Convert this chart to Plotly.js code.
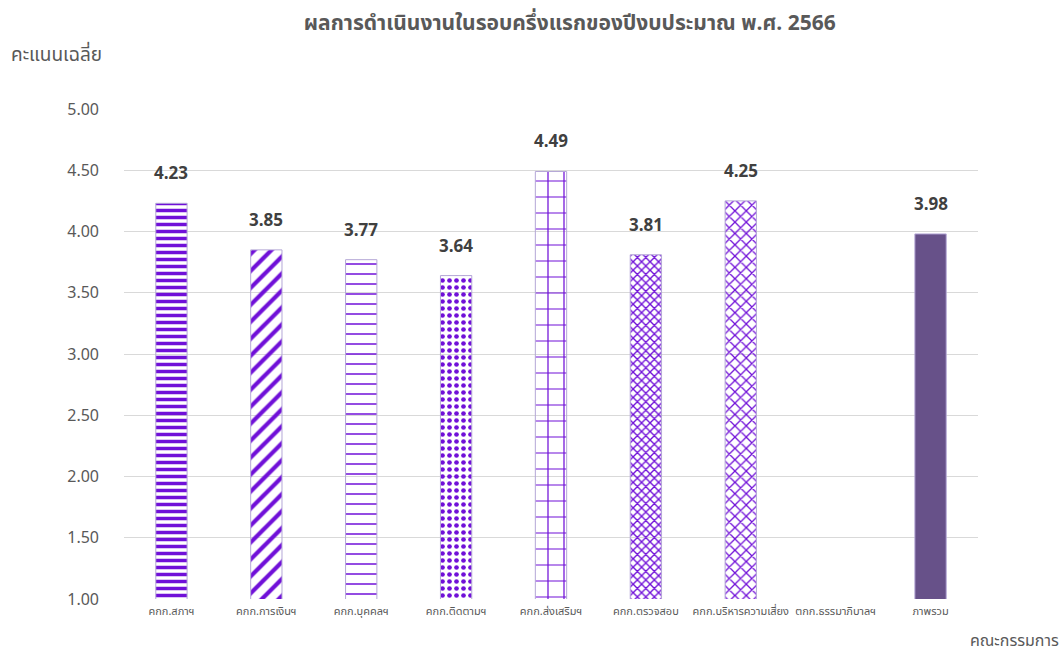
<!DOCTYPE html>
<html>
<head>
<meta charset="utf-8">
<script src="https://cdn.plot.ly/plotly-3.0.1.min.js"></script>
<style>html,body{margin:0;padding:0;background:#fff}#chart{width:1063px;height:654px}</style>
</head>
<body>
<div id="chart"></div>
<script>
const categories = ["คกก.สภาฯ","คกก.การเงินฯ","คกก.บุคคลฯ","คกก.ติดตามฯ","คกก.ส่งเสริมฯ","คกก.ตรวจสอบ","คกก.บริหารความเสี่ยง","ตกก.ธรรมาภิบาลฯ","ภาพรวม"];
const scores = [4.23, 3.85, 3.77, 3.64, 4.49, 3.81, 4.25, null, 3.98];
const yTicks = [1.00, 1.50, 2.00, 2.50, 3.00, 3.50, 4.00, 4.50, 5.00];
const titleText = "ผลการดำเนินงานในรอบครึ่งแรกของปีงบประมาณ พ.ศ. 2566";
const yTitle = "คะแนนเฉลี่ย";
const xTitle = "คณะกรรมการ";

const purple = "#7010d8";
const shapes = ["-","/","-",".","+","x","x","",""];
const sizes = [7,12,10,7,16,6,8,8,8];
const solid = [0.5,0.35,0.15,0.35,0.15,0.4,0.3,0.3,0.3];
const fillCols = categories.map((c,i)=> i===categories.length-1 ? "#675189" : purple);

const font = "Tahoma, 'Noto Sans Thai', 'DejaVu Sans', sans-serif";

const trace = {
  type: "bar",
  x: categories,
  y: scores,
  base: 0,
  width: 0.33,
  marker: {
    color: fillCols,
    line: {color: "#b4a7d6", width: 1},
    pattern: {shape: shapes, bgcolor: "#ffffff", size: sizes, solidity: solid, fillmode: "replace", fgopacity: 1}
  },
  hoverinfo: "skip"
};

const annotations = [];
categories.forEach((c,i)=>{
  if (scores[i] !== null) {
    annotations.push({x: c, y: scores[i], xref: "x", yref: "y", text: "<b>"+scores[i].toFixed(2)+"</b>",
      showarrow: false, yshift: 29, yanchor: "middle", font: {family: font, size: 17, color: "#404040"}});
  }
});
annotations.push({xref: "paper", yref: "paper", x: -0.135, y: 1.11, xanchor: "left", yanchor: "middle",
  text: yTitle, showarrow: false, font: {family: font, size: 19, color: "#595959"}});
annotations.push({xref: "paper", yref: "paper", x: 1.097, y: -0.085, xanchor: "right", yanchor: "middle",
  text: xTitle, showarrow: false, font: {family: font, size: 16, color: "#595959"}});

const layout = {
  width: 1063, height: 654,
  margin: {l: 124, r: 85, t: 109, b: 55},
  paper_bgcolor: "#ffffff", plot_bgcolor: "#ffffff",
  showlegend: false,
  title: {text: "<b>"+titleText+"</b>", x: 0.536, xref: "container", y: 0.966, yref: "container", yanchor: "middle",
    font: {family: font, size: 21, color: "#595959"}},
  xaxis: {type: "category", showgrid: false, zeroline: false, showline: false, ticks: "",
    tickfont: {family: font, size: 11, color: "#595959"}, ticklabelstandoff: 4},
  yaxis: {range: [1, 5], tickvals: yTicks, ticktext: yTicks.map(v=>v.toFixed(2)),
    showgrid: true, gridcolor: "#d9d9d9", gridwidth: 1, zeroline: false, showline: false, ticks: "",
    ticklabelstandoff: 24, tickfont: {family: font, size: 16, color: "#595959"}},
  annotations: annotations
};

Plotly.newPlot("chart", [trace], layout, {displayModeBar: false, staticPlot: true});
</script>
</body>
</html>
